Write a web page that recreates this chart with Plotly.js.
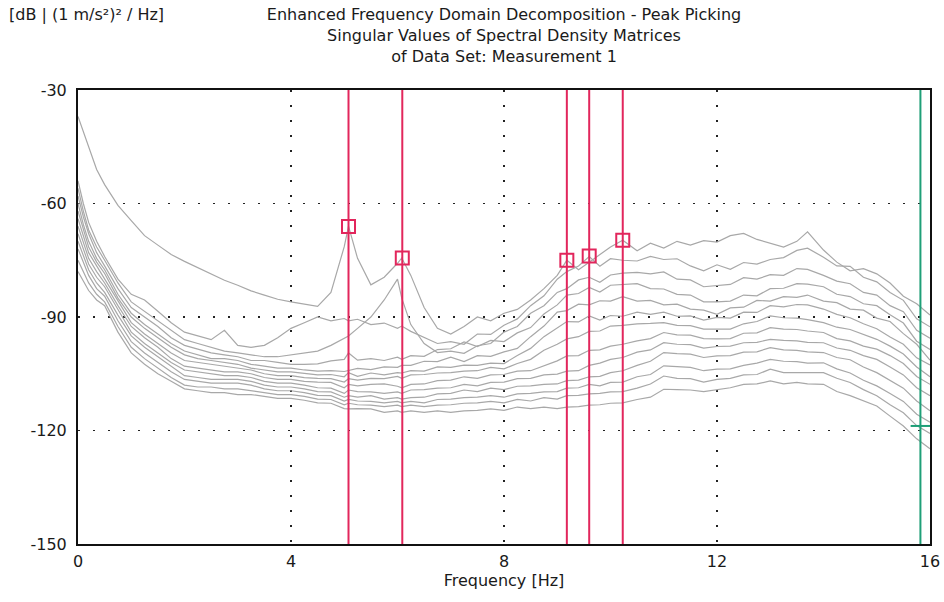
<!DOCTYPE html>
<html>
<head>
<meta charset="utf-8">
<script src="https://cdn.plot.ly/plotly-3.0.1.min.js"></script>
<style>html,body{margin:0;padding:0;background:#fff;}#chart{width:944px;height:602px;}</style>
</head>
<body>
<div id="chart"></div>
<script>
// Frequency grid [Hz]
const freqHz = [
  0, 0.1, 0.2, 0.35, 0.5, 0.75, 1, 1.25, 1.5, 1.75,
  2, 2.25, 2.5, 2.75, 3, 3.25, 3.5, 3.75, 4, 4.25,
  4.5, 4.75, 5, 5.08, 5.25, 5.5, 5.75, 6, 6.08, 6.25,
  6.5, 6.75, 7, 7.25, 7.5, 7.75, 8, 8.25, 8.5, 8.75,
  9, 9.18, 9.4, 9.6, 9.8, 10, 10.23, 10.5, 10.75, 11,
  11.25, 11.5, 11.75, 12, 12.25, 12.5, 12.75, 13, 13.25, 13.5,
  13.7, 14, 14.25, 14.5, 14.75, 15, 15.25, 15.5, 15.75, 16
];

// Singular value curves [dB]
const sv01 = [
  -37, -41, -45.5, -51, -55, -60.5, -64.5, -68.5, -71, -73.5,
  -75.3, -77, -78.6, -80.3, -81.6, -83.1, -84.2, -85.3, -86, -86.6,
  -87.2, -83.5, -71.4, -66, -74.5, -81.5, -79.5, -75.8, -74.4, -79,
  -87.5, -93, -94.5, -92.5, -90, -91, -89, -88, -85.5, -82.5,
  -79, -75, -77.5, -75.5, -73.5, -71.5, -69.7, -72.5, -70.5, -71.8,
  -70, -71, -69.8, -70.2, -68.5, -67.9, -69.5, -70.5, -71.5, -70,
  -67.5, -72.3, -75.5, -77.8, -77.2, -78.6, -81, -84.5, -86.5, -89.5
];
const sv02 = [
  -54, -60, -65, -70, -74, -80, -84, -85.5, -88.5, -91.5,
  -94, -95, -96, -93.5, -97.5, -98, -97.5, -95.5, -93, -91.5,
  -90, -91, -90.4, -91, -90.6, -92, -91.6, -93, -92.4, -93.8,
  -95.5, -97, -96.5, -97.2, -94.5, -94.6, -92.2, -90.5, -87, -84.4,
  -80, -78, -76.5, -74, -76.6, -74.6, -75, -75.2, -74, -74.8,
  -74.6, -76.5, -77.8, -76.2, -77.4, -75.6, -76, -74.8, -74.3, -72.4,
  -71.8, -74.2, -76.5, -76.6, -79.5, -80.7, -83.5, -85.6, -90.5, -92.6
];
const sv03 = [
  -56, -62, -67, -71.5, -75, -81, -86, -88.5, -91, -93.5,
  -96, -97, -98, -99, -99.5, -100, -100.5, -100.5, -100, -99.5,
  -99, -97.5, -95.5, -95, -93, -90, -85.5, -80, -85, -92,
  -97, -99.4, -99, -99.6, -97.6, -97, -94, -92.5, -89, -87,
  -83.5, -82.5, -80.2, -79.5, -80.8, -78.9, -78.4, -78.2, -78.6, -78.1,
  -80, -80.2, -82, -81.6, -81.4, -79.6, -80, -78.8, -79, -77.2,
  -77.4, -79, -80.5, -81.2, -83.5, -84.2, -87, -88.6, -93.5, -95.6
];
const sv04 = [
  -58, -63.5, -68, -73, -76.5, -82.5, -87.5, -90, -92.5, -95.5,
  -97.5, -98.5, -99.5, -100, -100.5, -101.5, -101.5, -102, -102.5, -102.5,
  -102.4, -101.6, -101.2, -99.5, -101.4, -101, -101.5, -100.6, -101.2, -100.2,
  -100.4, -98.6, -98.4, -96.6, -97.8, -96.2, -96.5, -94.2, -92.8, -89.2,
  -86.8, -84.2, -83.8, -82.2, -83.4, -81.6, -81.4, -81.2, -82.5, -82.6,
  -84, -84.2, -86, -86, -85.8, -84.2, -84.4, -82.5, -82.4, -81.2,
  -81.3, -82, -84, -84.6, -86.5, -87, -89.4, -91.6, -96.4, -98.6
];
const sv05 = [
  -60, -65.5, -70, -74.5, -77.5, -84, -89, -92, -94.5, -97,
  -99, -100, -101, -101, -101.5, -102.5, -103, -103.5, -103.5, -104,
  -104.3, -104.2, -104.4, -104.2, -103.6, -103.9, -103.2, -103.3, -102.8, -102.8,
  -101.7, -101.8, -100.6, -101.8, -100.2, -100.4, -99.2, -98.3, -95.2, -92.4,
  -88.7, -88.3, -86.6, -86.8, -85.7, -85.8, -84.6, -85.8, -85.6, -86.8,
  -86.6, -87.9, -88.2, -89.3, -87.6, -87.4, -85.6, -85.8, -84.6, -84.8,
  -84.2, -85.8, -86.2, -87.9, -88.2, -90.3, -91.2, -94.4, -97.2, -101.4
];
const sv06 = [
  -62, -67, -71.5, -75.5, -78.5, -85, -90, -93, -95.5, -98,
  -100, -101, -101.5, -102, -102.5, -103.5, -104, -104.5, -104.5, -105,
  -105.3, -105.2, -105.8, -104.7, -105.7, -104.8, -105.3, -104.7, -104.8, -104.2,
  -104.3, -103.2, -103.3, -102.7, -102.8, -102.2, -102.3, -100.2, -98.3, -95.2,
  -92.9, -91.2, -91.3, -89.7, -90.8, -89.6, -89.8, -88.7, -89.3, -88.7,
  -89.8, -89.7, -90.8, -90.1, -90.3, -88.7, -88.8, -87, -87.3, -86.7,
  -86.8, -87.9, -89.3, -90.2, -91.8, -93.1, -95.3, -97.2, -100.8, -102.7
];
const sv07 = [
  -64, -68.5, -73, -76.5, -80, -86, -91.5, -94.5, -97, -99.5,
  -101.5, -102, -102.5, -103, -103.5, -104, -105, -105.5, -105.5, -106,
  -106.2, -106.3, -107.2, -106.3, -106.7, -106.2, -106.3, -105.7, -106.2, -105.3,
  -105.2, -104.8, -104.7, -104.3, -104.2, -103.3, -103.7, -102.3, -101.2, -98.8,
  -97.2, -95.8, -95.2, -93.8, -93.7, -92.4, -92.2, -91.8, -91.7, -91.5,
  -92.2, -92.3, -93.2, -93.3, -93.2, -91.8, -91.2, -89.7, -90.2, -90.3,
  -90.7, -91.5, -92.7, -93.3, -94.7, -95.9, -97.7, -99.8, -103.2, -105.8
];
const sv08 = [
  -66, -70, -74.5, -78, -81, -87, -92.5, -95.5, -98, -101,
  -103, -103.5, -104, -104.5, -104.5, -105, -106, -106.5, -106.5, -107,
  -107.2, -107.3, -108.7, -107.8, -108.2, -107.8, -107.7, -108.3, -108.7, -107.8,
  -107.7, -106.8, -106.7, -105.8, -106.2, -105.3, -105.2, -104.3, -104.2, -102.8,
  -101.6, -100.3, -100.2, -98.8, -98.7, -97.7, -97.2, -96.3, -95.7, -94.1,
  -94.7, -94.8, -95.7, -95.8, -95.7, -94.3, -94.2, -92.8, -93.2, -93.3,
  -93.7, -94.1, -95.7, -96.3, -97.7, -98.5, -100.2, -102.3, -105.7, -107.8
];
const sv09 = [
  -68, -72, -76, -79.5, -82, -88, -94, -97, -99.5, -102,
  -104, -104.5, -105, -105.5, -105.5, -106, -107, -107.5, -107.5, -108,
  -108.7, -108.8, -110.2, -109.3, -109.7, -109.8, -110.2, -109.8, -110.2, -109.3,
  -109.2, -108.8, -108.7, -107.8, -108.2, -107.3, -107.2, -106.3, -106.2, -105.3,
  -105.1, -104.3, -104.2, -102.8, -102.2, -101.2, -100.7, -99.3, -98.7, -96.8,
  -97.2, -97.3, -98.2, -97.8, -97.7, -96.8, -96.7, -95.9, -96.2, -96.3,
  -96.7, -96.8, -98.2, -98.8, -100.2, -101.2, -103.2, -105.3, -108.7, -110.8
];
const sv10 = [
  -70, -73.5, -77.5, -81, -83.5, -89.5, -95, -98, -100.5, -103,
  -105.5, -106, -106.5, -106.5, -106.5, -107, -108, -108.5, -108.5, -109,
  -109.7, -109.8, -111.2, -110.8, -111.2, -110.8, -111.7, -111.3, -111.7, -111.3,
  -111.2, -110.3, -110.2, -109.3, -109.7, -108.8, -109.2, -108.3, -108.2, -107.8,
  -107.7, -106.8, -106.7, -105.8, -105.7, -104.7, -104.2, -102.8, -101.7, -99.4,
  -99.7, -99.8, -100.7, -100.3, -100.2, -99.3, -99.2, -98.1, -98.7, -98.8,
  -99.2, -99.4, -100.7, -101.3, -103.2, -104.7, -106.7, -108.8, -112.2, -114.8
];
const sv11 = [
  -72, -75.5, -79, -82.5, -84.5, -91, -96.5, -99.5, -102, -104.5,
  -106.5, -107, -107.5, -107.5, -107.5, -108, -109, -109.5, -109.5, -110,
  -110.7, -110.8, -112.2, -111.8, -112.2, -112.3, -112.7, -112.3, -112.7, -112.3,
  -112.7, -111.8, -111.7, -111.3, -111.2, -110.8, -111.2, -110.3, -110.2, -109.8,
  -109.7, -108.8, -108.7, -107.8, -108.2, -107.3, -107.2, -105.8, -105.2, -102.9,
  -103.2, -103.3, -104.2, -103.8, -103.7, -102.8, -102.2, -101.2, -101.7, -101.8,
  -102.2, -102.1, -103.7, -104.8, -106.7, -108.2, -110.2, -112.3, -115.7, -117.8
];
const sv12 = [
  -75, -78, -81, -84, -86, -92.5, -98, -101, -103.5, -106,
  -108, -108.5, -108.5, -109, -109, -109.5, -110, -110.5, -110.5, -111,
  -111.7, -111.8, -113.2, -112.8, -113.2, -113.3, -113.7, -113.3, -113.7, -113.3,
  -113.7, -113.3, -113.2, -112.8, -112.7, -112.3, -112.7, -111.8, -112.2, -111.3,
  -111.7, -110.8, -110.7, -110.3, -110.2, -109.8, -109.7, -108.8, -107.7, -105.6,
  -106.2, -106.3, -107.2, -106.5, -106.2, -105.3, -105.2, -103.8, -104.7, -104.8,
  -104.7, -104.7, -106.2, -107.3, -109.2, -110.8, -113.2, -115.3, -118.7, -120.8
];
const sv13 = [
  -78, -80.5, -83, -85.5, -87, -94, -99.5, -102.5, -105, -107,
  -109, -109.5, -110, -110, -110.5, -110.5, -111, -111.5, -111.5, -112,
  -112.7, -112.8, -114.2, -114.3, -114.2, -114.3, -115.2, -114.8, -115.2, -114.8,
  -115.2, -114.8, -115.2, -114.8, -114.7, -114.3, -114.7, -113.8, -114.2, -113.8,
  -114.2, -113.8, -113.7, -113.3, -113.2, -112.8, -112.7, -111.8, -111.2, -109.1,
  -109.2, -109.3, -109.7, -109.1, -108.7, -107.8, -107.7, -106.9, -107.7, -107.3,
  -107.7, -107.8, -109.7, -110.8, -112.2, -113.5, -116.2, -118.8, -122.2, -124.8
];

// Picked peaks
const peakFreqHz = [5.08, 6.09, 9.18, 9.6, 10.23];
const peakDb = [-66.1, -74.4, -75.0, -73.9, -69.7];

// Cursor (green)
const cursorFreqHz = [15.82];
const cursorDb = [-118.8];

// Axes
const xRange = [0, 16];
const yRange = [-150, -30];
const xTicks = [0, 4, 8, 12, 16];
const yTicks = [-150, -120, -90, -60, -30];

const titleText = 'Enhanced Frequency Domain Decomposition - Peak Picking<br>Singular Values of Spectral Density Matrices<br>of Data Set: Measurement 1';
const yUnitText = '[dB | (1 m/s²)² / Hz]';
const xTitleText = 'Frequency [Hz]';

const curves = [sv01, sv02, sv03, sv04, sv05, sv06, sv07, sv08, sv09, sv10, sv11, sv12, sv13];
const RED = '#e2265c';
const GREEN = '#1f9f78';
const GRAY = '#a8a8a8';

const traces = curves.map(c => ({
  type: 'scatter', mode: 'lines', x: freqHz, y: c,
  line: {color: GRAY, width: 1.2}, hoverinfo: 'skip'
}));

traces.push({
  type: 'scatter', mode: 'lines',
  x: cursorFreqHz.flatMap(f => [f, f, null]),
  y: cursorFreqHz.flatMap(() => [yRange[0], yRange[1], null]),
  line: {color: GREEN, width: 2}, hoverinfo: 'skip'
});
traces.push({
  type: 'scatter', mode: 'markers', x: cursorFreqHz, y: cursorDb,
  marker: {symbol: 'line-ew', size: 14, color: GREEN, line: {color: GREEN, width: 2}},
  hoverinfo: 'skip'
});
traces.push({
  type: 'scatter', mode: 'lines',
  x: peakFreqHz.flatMap(f => [f, f, null]),
  y: peakFreqHz.flatMap(() => [yRange[0], yRange[1], null]),
  line: {color: RED, width: 2}, hoverinfo: 'skip'
});
traces.push({
  type: 'scatter', mode: 'markers', x: peakFreqHz, y: peakDb,
  marker: {symbol: 'square-open', size: 13, color: RED, line: {color: RED, width: 2}},
  hoverinfo: 'skip'
});

const axisCommon = {
  showline: true, mirror: true, linecolor: '#111', linewidth: 2,
  showgrid: true, gridcolor: '#222', gridwidth: 1.5, griddash: '2px,13px',
  zeroline: false, ticks: '', fixedrange: true
};

const layout = {
  width: 944, height: 602,
  margin: {l: 78, r: 14, t: 90, b: 58},
  paper_bgcolor: '#fff', plot_bgcolor: '#fff',
  showlegend: false,
  font: {family: 'DejaVu Sans, Arial, sans-serif', size: 16, color: '#1a1a1a'},
  title: {
    text: titleText, x: 0.5, xref: 'paper', xanchor: 'center',
    y: 0.966, yref: 'container', yanchor: 'top',
    font: {family: 'DejaVu Sans, Arial, sans-serif', size: 16, color: '#1a1a1a'}
  },
  xaxis: Object.assign({}, axisCommon, {
    range: xRange, tickvals: xTicks, ticktext: xTicks.map(String),
    ticklabelstandoff: 2,
    title: {text: xTitleText, standoff: 2, font: {size: 16}}
  }),
  yaxis: Object.assign({}, axisCommon, {
    range: yRange, tickvals: yTicks, ticktext: yTicks.map(String),
    ticklabelstandoff: 6
  }),
  annotations: [{
    text: yUnitText, xref: 'paper', yref: 'paper',
    x: -0.083, y: 1.166, xanchor: 'left', yanchor: 'middle',
    showarrow: false, font: {size: 16}
  }]
};

Plotly.newPlot('chart', traces, layout, {staticPlot: true, displayModeBar: false});
</script>
</body>
</html>
